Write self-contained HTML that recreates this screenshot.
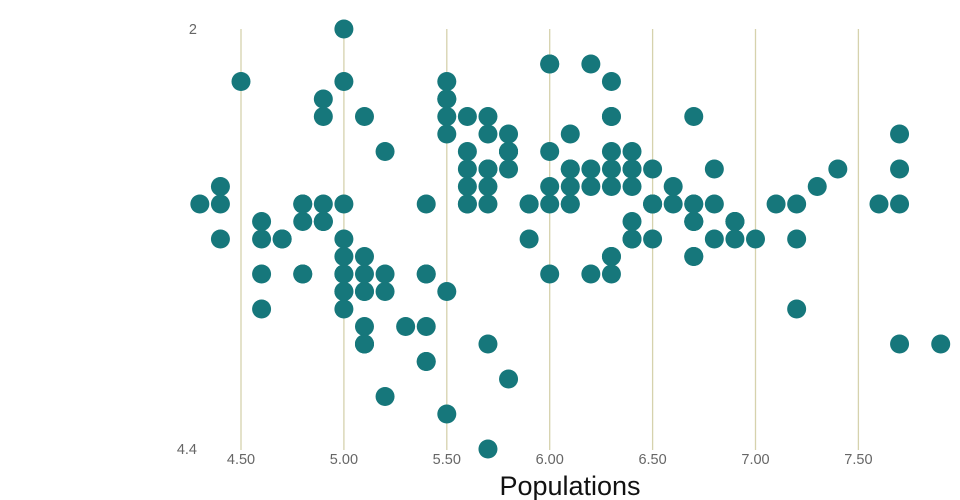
<!DOCTYPE html>
<html><head><meta charset="utf-8"><style>
html,body{margin:0;padding:0;background:#fff;}
svg{display:block;font-family:"Liberation Sans","DejaVu Sans",sans-serif;}
</style></head><body>
<svg id="s" width="960" height="500" xmlns="http://www.w3.org/2000/svg">
<g id="grid" stroke="#d6d2ad" stroke-width="1.3"></g>
<g id="lab" fill="#666" font-size="14.5" text-anchor="middle"></g>
<text x="197" y="34" font-size="14.5" fill="#666" text-anchor="end">2</text>
<text x="197" y="454" font-size="14.5" fill="#666" text-anchor="end">4.4</text>
<text x="570" y="495" font-size="27" fill="#111" text-anchor="middle">Populations</text>
<g id="pts" fill="#16777b"></g>
</svg>
<script>
var d="5.1,3.5;4.9,3.0;4.7,3.2;4.6,3.1;5.0,3.6;5.4,3.9;4.6,3.4;5.0,3.4;4.4,2.9;4.9,3.1;5.4,3.7;4.8,3.4;4.8,3.0;4.3,3.0;5.8,4.0;5.7,4.4;5.4,3.9;5.1,3.5;5.7,3.8;5.1,3.8;5.4,3.4;5.1,3.7;4.6,3.6;5.1,3.3;4.8,3.4;5.0,3.0;5.0,3.4;5.2,3.5;5.2,3.4;4.7,3.2;4.8,3.1;5.4,3.4;5.2,4.1;5.5,4.2;4.9,3.1;5.0,3.2;5.5,3.5;4.9,3.1;4.4,3.0;5.1,3.4;5.0,3.5;4.5,2.3;4.4,3.2;5.0,3.5;5.1,3.8;4.8,3.0;5.1,3.8;4.6,3.2;5.3,3.7;5.0,3.3;7.0,3.2;6.4,3.2;6.9,3.1;5.5,2.3;6.5,2.8;5.7,2.8;6.3,3.3;4.9,2.4;6.6,2.9;5.2,2.7;5.0,2.0;5.9,3.0;6.0,2.2;6.1,2.9;5.6,2.9;6.7,3.1;5.6,3.0;5.8,2.7;6.2,2.2;5.6,2.5;5.9,3.2;6.1,2.8;6.3,2.5;6.1,2.8;6.4,2.9;6.6,3.0;6.8,2.8;6.7,3.0;6.0,2.9;5.7,2.6;5.5,2.4;5.5,2.4;5.8,2.7;6.0,2.7;5.4,3.0;6.0,3.4;6.7,3.1;6.3,2.3;5.6,3.0;5.5,2.5;5.5,2.6;6.1,3.0;5.8,2.6;5.0,2.3;5.6,2.7;5.7,3.0;5.7,2.9;6.2,2.9;5.1,2.5;5.7,2.8;6.3,3.3;5.8,2.7;7.1,3.0;6.3,2.9;6.5,3.0;7.6,3.0;4.9,2.5;7.3,2.9;6.7,2.5;7.2,3.6;6.5,3.2;6.4,2.7;6.8,3.0;5.7,2.5;5.8,2.8;6.4,3.2;6.5,3.0;7.7,3.8;7.7,2.6;6.0,2.2;6.9,3.2;5.6,2.8;7.7,2.8;6.3,2.7;6.7,3.3;7.2,3.2;6.2,2.8;6.1,3.0;6.4,2.8;7.2,3.0;7.4,2.8;7.9,3.8;6.4,2.8;6.3,2.8;6.1,2.6;7.7,3.0;6.3,3.4;6.4,3.1;6.0,3.0;6.9,3.1;6.7,3.1;6.9,3.1;5.8,2.7;6.8,3.2;6.7,3.3;6.7,3.0;6.3,2.5;6.5,3.0;6.2,3.4;5.9,3.0";
var ns="http://www.w3.org/2000/svg";
function X(l){return 241+(l-4.5)*205.8;}
function Y(w){return 29+(w-2)*175;}
var g=document.getElementById("grid"),lb=document.getElementById("lab"),p=document.getElementById("pts");
[4.5,5,5.5,6,6.5,7,7.5].forEach(function(v){
 var l=document.createElementNS(ns,"line");var x=X(v);
 l.setAttribute("x1",x);l.setAttribute("x2",x);l.setAttribute("y1",29);l.setAttribute("y2",450);g.appendChild(l);
 var t=document.createElementNS(ns,"text");t.setAttribute("x",x);t.setAttribute("y",464);t.textContent=v.toFixed(2);lb.appendChild(t);
});
d.split(";").forEach(function(s){var a=s.split(",");
 var c=document.createElementNS(ns,"circle");c.setAttribute("cx",X(+a[0]));c.setAttribute("cy",Y(+a[1]));c.setAttribute("r",9.5);p.appendChild(c);});
</script>
</body></html>
